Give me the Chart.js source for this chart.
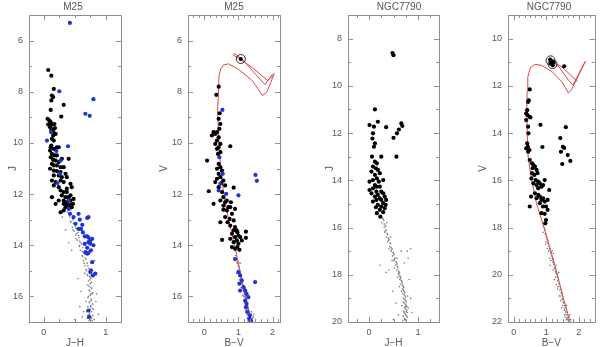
<!DOCTYPE html>
<html>
<head>
<meta charset="utf-8">
<script src="https://cdn.jsdelivr.net/npm/chart.js@4.4.1/dist/chart.umd.min.js"></script>
<style>
  html, body { margin: 0; padding: 0; background: #fff; }
  #wrap { position: relative; width: 600px; height: 347px; }
  canvas { position: absolute; top: 0; }
</style>
</head>
<body>
<div id="wrap">
  <canvas id="p1" width="150" height="347" style="left:0px"></canvas>
  <canvas id="p2" width="150" height="347" style="left:150px"></canvas>
  <canvas id="p3" width="150" height="347" style="left:300px"></canvas>
  <canvas id="p4" width="150" height="347" style="left:450px"></canvas>
</div>
<script>
// ---- data: [colour, magnitude] pairs ----
const m25JH_black = [[.07,7.15],[.12,7.37],[.16,7.89],[.13,8.15],[.15,8.21],[.12,8.34],[.32,8.51],[.11,8.71],[.28,8.97],
  [.06,9.06],[.09,9.13],[.11,9.19],[.07,9.28],[.13,9.28],[.10,9.39],[.16,9.45],[.12,9.52],[.15,9.58],[.17,9.26],[.18,9.42],
  [.19,9.65],[.15,9.71],[.13,9.84],[.16,9.91],[.12,10.1],[.11,10.17],[.10,10.3],[.16,10.23],[.19,10.23],[.21,10.17],[.24,10.17],
  [.40,10.62],[.13,10.43],[.17,10.49],[.21,10.49],[.11,10.56],[.15,10.66],[.19,10.69],[.24,10.75],[.29,10.62],[.13,10.82],
  [.16,10.88],[.21,10.88],[.27,10.95],[.32,10.95],[.10,11.01],[.16,11.08],[.21,11.1],[.27,11.14],[.35,11.21],[.16,11.27],
  [.24,11.27],[.29,11.34],[.37,11.34],[.13,11.47],[.19,11.53],[.27,11.47],[.32,11.53],[.43,11.6],[.16,11.66],[.24,11.73],
  [.37,11.79],[.27,11.86],[.32,11.92],[.37,11.92],[.45,11.73],[.29,12.05],[.35,12.12],[.40,12.12],[.43,12.05],[.13,12.12],
  [.24,12.25],[.32,12.25],[.37,12.32],[.43,12.25],[.48,12.19],[.32,12.38],[.37,12.41],[.43,12.41],[.47,12.38],[.35,12.51],
  [.40,12.54],[.45,12.51],[.32,12.64],[.27,12.71],[.19,12.38]];
const m25JH_blue = [[.42,5.31],[.25,7.98],[.80,8.29],[.67,8.86],[.74,8.94],[.05,9.91],[.12,9.58],[.39,10.13],[.20,10.32],
  [.27,10.69],[.26,11.21],[.22,11.57],[.40,12.25],[.40,12.58],[.42,12.77],[.51,13.16],[.48,12.9],[.56,12.77],[.70,12.93],
  [.72,12.9],[.56,13.36],[.60,13.36],[.63,13.5],[.66,13.65],[.70,13.65],[.72,13.7],[.75,13.81],[.58,13.0],[.62,13.2],
  [.66,13.95],[.70,14.1],[.76,14.2],[.72,14.3],[.78,13.75],[.80,14.0],[.72,13.88],[.75,13.94],[.67,14.27],[.70,14.33],
  [.78,14.66],[.76,14.98],[.75,15.05],[.83,15.11],[.79,15.18],[.72,16.55],[.73,16.8]];
const m25JH_grey = [[.40,12.5],[.43,12.6],[.38,12.7],[.45,12.8],[.42,12.9],[.47,13.0],[.44,13.1],[.50,13.2],[.46,13.3],
  [.52,13.35],[.49,13.45],[.55,13.5],[.51,13.6],[.57,13.7],[.54,13.8],[.60,13.9],[.58,14.0],[.63,14.1],[.59,14.2],[.65,14.3],
  [.62,14.4],[.67,14.5],[.64,14.6],[.70,14.7],[.66,14.8],[.72,14.9],[.69,15.0],[.74,15.1],[.71,15.2],[.76,15.3],[.72,15.4],
  [.75,15.5],[.73,15.6],[.77,15.7],[.74,15.8],[.78,15.9],[.72,16.0],[.76,16.1],[.74,16.2],[.79,16.3],[.71,16.4],[.75,16.5],
  [.77,16.6],[.73,16.7],[.76,16.8],[.74,16.9],[.78,16.95],[.70,16.85],[.80,16.5],[.68,16.2],[.30,12.9],[.35,13.4],[.62,13.2],
  [.70,13.6],[.45,14.2],[.82,14.6],[.55,15.3],[.60,15.8],[.85,15.9],[.58,16.4],[.88,16.7],[.50,16.9],[.62,16.8],[.66,15.1],
  [.40,13.9],[.84,16.2],[.64,16.6],
  [.41,12.55],[.44,12.75],[.46,12.95],[.43,13.05],[.48,13.15],[.51,13.28],[.47,13.4],[.53,13.55],[.56,13.62],[.52,13.75],
  [.58,13.85],[.61,13.95],[.57,14.05],[.62,14.25],[.66,14.35],[.63,14.45],[.68,14.55],[.65,14.7],[.71,14.8],[.68,14.95],
  [.73,15.05],[.70,15.15],[.75,15.25],[.74,15.35],[.77,15.45],[.71,15.55],[.76,15.65],[.73,15.75],[.79,15.85],[.75,15.95],
  [.71,16.05],[.77,16.15],[.73,16.25],[.76,16.35],[.78,16.45],[.72,16.55],[.74,16.65],[.79,16.75],[.71,16.75],[.77,16.85],
  [.73,16.95],[.75,16.4],[.76,15.9],[.69,16.6],[.81,16.9],[.74,15.2]];

const m25BV_black = [[.42,7.80],[.35,8.12],[.45,8.84],[.42,9.06],[.47,9.26],[.44,9.45],[.37,9.58],[.27,9.58],[.32,9.65],
  [.22,9.71],[.42,9.78],[.37,9.91],[.47,10.04],[.42,10.17],[.37,10.23],[.47,10.36],[.40,10.43],[.32,10.04],[.76,10.13],
  [.08,10.69],[.42,10.82],[.47,10.95],[.37,11.01],[.52,11.08],[.42,11.21],[.47,11.34],[.37,11.4],[.56,11.47],[.32,11.53],
  [.50,11.57],[.61,11.66],[.42,11.73],[.13,11.89],[.86,11.75],[.27,12.38],[.52,11.92],[.56,12.12],[.47,12.25],[.61,12.32],
  [.66,12.25],[.56,12.45],[.71,12.51],[.76,12.51],[.66,12.64],[.81,12.77],[.61,12.9],[.74,12.97],[.86,13.03],[.68,13.1],
  [.47,13.1],[.76,13.23],[.90,13.29],[.86,13.42],[.95,13.42],[.81,13.55],[.97,13.49],[1.0,13.62],[.90,13.68],[1.05,13.68],
  [.76,13.75],[.95,13.81],[1.10,13.81],[1.22,13.47],[1.22,13.71],[.86,13.88],[1.0,13.94],[.97,14.07],[.90,14.14],[1.03,14.18],
  [.81,14.07],[.52,13.79],[.90,12.58],[.56,12.61],[.78,12.32],[1.07,6.72]];
const m25BV_blue = [[.53,8.71],[.44,10.56],[.54,11.21],[.47,11.6],[.42,11.86],[1.0,12.05],[1.50,11.25],[1.54,11.48],[.64,11.99],
  [.90,14.54],[1.0,15.05],[1.05,15.18],[1.10,15.38],[1.03,15.5],[1.15,15.64],[1.20,15.77],[1.05,15.77],[1.24,15.9],[1.29,16.03],
  [1.20,16.16],[1.24,16.29],[1.22,16.42],[1.26,16.61],[1.34,16.74],[1.32,16.87],[1.36,16.94],[1.49,15.44]];
const m25BV_grey = [[.92,14.4],[.95,14.55],[.97,14.7],[1.0,14.85],[.98,15.0],[1.04,15.1],[1.06,15.25],[1.03,15.35],[1.09,15.45],
  [1.12,15.55],[1.08,15.65],[1.14,15.75],[1.17,15.85],[1.13,15.95],[1.2,16.05],[1.22,16.15],[1.18,16.25],[1.25,16.3],[1.27,16.4],
  [1.23,16.5],[1.3,16.55],[1.32,16.65],[1.28,16.75],[1.35,16.8],[1.37,16.9],[1.33,16.95],[1.4,16.98],[1.42,16.85],[1.1,15.3],
  [1.15,16.0],[1.0,15.5],[1.25,16.7],[1.38,16.6],[1.45,16.7],[1.5,16.9],[1.2,15.7],[1.05,14.7],[0.95,15.1],[1.28,16.95],[1.36,17.0],
  [.93,14.5],[.96,14.65],[.99,14.78],[1.01,14.95],[1.03,15.05],[1.05,15.18],[1.07,15.32],[1.1,15.4],[1.11,15.5],[1.13,15.62],
  [1.15,15.7],[1.16,15.8],[1.18,15.92],[1.19,16.0],[1.21,16.1],[1.23,16.2],[1.24,16.35],[1.26,16.45],[1.28,16.5],[1.29,16.62],
  [1.31,16.7],[1.33,16.78],[1.34,16.88],[1.36,16.93],[1.39,16.9],[1.31,16.98],[1.26,16.85],[1.21,16.55],[1.17,16.2],[1.42,16.95],
  [1.44,16.8]];
const m25BV_ringed = [[1.07,6.72]];
const m25BV_iso = [[1.42,17.1],[1.3,16.5],[1.17,15.8],[1.05,15.0],[.92,14.2],[.78,13.4],[.65,12.6],[.55,11.8],[.48,11.0],
  [.44,10.2],[.41,9.5],[.39,8.73],[.42,7.82],[.43,7.37],[.48,7.11],[.56,6.95],[.71,6.91],[1.0,7.12],[1.39,7.54],[1.58,7.89],
  [1.70,8.15],[1.83,8.02],[2.05,7.30],[1.99,7.33],[1.78,7.72],[1.54,7.37],[1.15,6.78],[.88,6.5],[.85,6.57],[1.0,6.68],
  [1.39,7.04],[1.86,7.56],[2.02,7.37]];

const n7790JH_black = [[.48,8.61],[.50,8.70],[.12,11.0],[.01,11.66],[.18,11.52],[.10,11.73],[.35,11.75],[.66,11.59],[.68,11.70],
  [.61,11.85],[.50,12.2],[.57,12.01],[.56,13.0],[.08,12.01],[.07,12.23],[.12,12.44],[.10,12.58],[.06,13.0],[.25,13.0],[.12,13.21],
  [.16,13.28],[.08,13.42],[.14,13.49],[.18,13.56],[.05,13.63],[.22,13.7],[.12,13.77],[.16,13.92],[.01,14.06],[.08,13.99],
  [.29,13.99],[.20,14.06],[.12,14.2],[.15,14.27],[.08,14.34],[.22,14.27],[.01,14.41],[.15,14.48],[.25,14.48],[.05,14.55],
  [.18,14.62],[.29,14.55],[.12,14.69],[.22,14.76],[.32,14.69],[.15,14.83],[.25,14.83],[.35,14.83],[.08,14.9],[.29,14.97],
  [.18,15.04],[.34,15.04],[.25,15.11],[.14,15.14],[.22,15.25],[.32,15.18],[.16,15.39],[.29,15.35],[.23,15.54]];
const n7790JH_grey = [[.28,15.6],[.30,15.7],[.26,15.8],[.33,15.9],[.31,16.0],[.35,16.1],[.32,16.2],[.38,16.3],[.36,16.4],
  [.41,16.5],[.38,16.6],[.44,16.7],[.42,16.8],[.47,16.9],[.45,17.0],[.50,17.1],[.48,17.2],[.53,17.3],[.51,17.4],[.56,17.5],
  [.54,17.6],[.59,17.7],[.57,17.8],[.62,17.9],[.60,18.0],[.65,18.1],[.63,18.2],[.67,18.3],[.65,18.4],[.70,18.5],[.68,18.6],
  [.72,18.7],[.69,18.8],[.74,18.9],[.71,19.0],[.75,19.1],[.72,19.2],[.76,19.3],[.73,19.4],[.77,19.5],[.72,19.6],[.75,19.7],
  [.78,19.8],[.73,19.9],[.76,19.95],[.70,19.75],[.80,19.4],[.67,19.3],[.79,18.9],[.62,18.5],[.57,17.3],[.44,16.4],[.36,15.8],
  [.78,17.0],[.85,16.9],[.80,17.3],[.72,17.5],[.22,17.6],[.35,17.9],[.48,18.7],[.55,19.2],[.85,19.0],[.60,19.7],[.88,19.6],
  [.50,19.9],[.66,17.0],[.40,17.8],[.82,18.2],
  [.29,15.65],[.31,15.85],[.34,15.95],[.33,16.15],[.37,16.25],[.39,16.45],[.40,16.55],[.43,16.65],[.45,16.85],[.46,16.95],
  [.49,17.05],[.51,17.15],[.52,17.35],[.55,17.45],[.57,17.55],[.58,17.65],[.60,17.85],[.61,17.95],[.63,18.05],[.64,18.15],
  [.66,18.25],[.68,18.35],[.69,18.45],[.71,18.55],[.70,18.65],[.73,18.75],[.72,18.85],[.75,18.95],[.73,19.05],[.76,19.15],
  [.74,19.25],[.77,19.35],[.75,19.45],[.71,19.55],[.76,19.55],[.74,19.65],[.77,19.75],[.72,19.85],[.75,19.9],[.78,19.6],
  [.69,19.95],[.74,19.35],[.70,19.15],[.66,18.7],[.59,18.1],[.52,17.7],[.47,17.4],[.41,16.9]];

const n7790BV_black = [[1.16,10.96],[1.14,11.06],[1.20,11.13],[1.12,10.89],[1.22,11.0],[1.55,11.17],[.49,12.15],[.46,12.61],
  [.44,12.68],[.41,13.03],[.38,13.17],[.42,13.24],[.49,13.31],[.51,13.34],[.38,13.45],[.44,13.73],[.82,13.65],[.45,14.01],
  [.41,14.44],[.43,14.58],[.48,14.72],[.38,14.65],[.44,14.79],[.88,14.59],[1.60,13.75],[1.43,14.21],[1.51,14.58],[1.55,14.63],
  [1.45,14.79],[1.49,15.31],[1.66,14.93],[1.74,15.18],[.49,15.14],[.56,15.28],[.60,15.35],[.65,15.42],[.58,15.49],[.70,15.56],
  [.56,15.7],[.63,15.77],[.73,15.7],[.54,15.92],[.67,15.99],[.75,16.06],[.60,16.13],[.70,16.2],[.80,16.13],[.85,16.27],
  [.75,16.34],[.90,16.2],[.95,15.99],[1.09,16.41],[.53,16.69],[.49,17.11],[.65,16.55],[.75,16.62],[.80,16.69],[.70,16.76],
  [.85,16.83],[.90,16.76],[.80,16.97],[.95,16.9],[.90,17.11],[.99,17.11],[1.04,16.83],[1.04,17.25],[.85,17.39],[.95,17.42],
  [.99,17.68],[.97,17.82]];
const n7790BV_grey = [[.88,17.8],[.93,18.0],[.90,18.2],[.98,18.3],[1.02,18.5],[.99,18.6],[1.06,18.7],[1.10,18.9],[1.07,19.0],
  [1.15,19.1],[1.18,19.3],[1.14,19.4],[1.22,19.5],[1.25,19.7],[1.21,19.8],[1.30,19.9],[1.33,20.0],[1.29,20.1],[1.37,20.2],
  [1.40,20.4],[1.36,20.5],[1.44,20.6],[1.47,20.8],[1.43,20.9],[1.51,21.0],[1.54,21.2],[1.50,21.3],[1.58,21.4],[1.61,21.6],
  [1.57,21.7],[1.65,21.8],[1.68,21.95],[1.62,21.9],[1.72,21.7],[1.25,20.2],[1.12,19.6],[1.40,20.9],[1.55,21.5],[1.03,18.9],
  [1.30,19.6],[1.18,19.0],[1.45,21.1],[1.62,21.3],[1.75,21.9],[1.35,20.6],
  [.91,17.9],[.95,18.1],[.97,18.25],[1.0,18.4],[1.04,18.55],[1.05,18.65],[1.08,18.8],[1.12,18.95],[1.13,19.05],[1.16,19.2],
  [1.2,19.35],[1.2,19.45],[1.23,19.55],[1.27,19.75],[1.28,19.85],[1.31,19.95],[1.35,20.1],[1.35,20.25],[1.39,20.35],[1.42,20.5],
  [1.42,20.65],[1.46,20.75],[1.49,20.9],[1.49,21.05],[1.52,21.15],[1.56,21.3],[1.56,21.45],[1.6,21.55],[1.63,21.7],[1.63,21.85],
  [1.67,21.9],[1.7,21.8],[1.58,21.8],[1.47,21.4],[1.31,20.4],[1.1,19.3],[.98,18.7],[1.22,19.1],[1.38,19.9]];
const n7790BV_ringed = [[1.13,10.92],[1.19,11.08]];
const n7790BV_iso = [[1.73,22.0],[1.53,21.0],[1.34,20.0],[1.14,19.0],[.93,18.0],[.70,17.0],[.55,16.0],[.44,15.0],[.41,14.0],
  [.40,13.0],[.41,12.2],[.43,11.62],[.51,11.23],[.65,11.09],[.85,11.13],[1.19,11.41],[1.48,11.83],[1.68,12.30],[1.77,12.18],
  [2.21,10.95],[2.16,11.06],[1.82,11.97],[1.68,11.76],[1.39,11.2],[1.09,10.85],[1.14,10.95],[1.48,11.2],[1.97,11.83]];

// ---- axis ticks ----
const m25Mag_ticks = [6, 8, 10, 12, 14, 16];
const n7790J_ticks = [8, 10, 12, 14, 16, 18, 20];
const n7790V_ticks = [10, 12, 14, 16, 18, 20, 22];
const JH_ticks = [0, 1];
const BV_ticks = [0, 1, 2];

const GREY_TXT = '#555';
const FRAME = '#8f8f8f';
const FONT = 'Liberation Sans, Arial, sans-serif';

// frame with inward ticks on all four sides, plus panel title
const framePlugin = {
  id: 'frame',
  afterDraw(chart, args, o) {
    const {ctx, chartArea: a, scales: {x, y}} = chart;
    ctx.save();
    ctx.strokeStyle = FRAME;
    ctx.lineWidth = 1;
    ctx.strokeRect(Math.round(a.left) + 0.5, Math.round(a.top) + 0.5,
                   Math.round(a.right - a.left), Math.round(a.bottom - a.top));
    ctx.beginPath();
    const xt = (v, len) => {
      const px = Math.round(x.getPixelForValue(v)) + 0.5;
      ctx.moveTo(px, a.bottom); ctx.lineTo(px, a.bottom - len);
      ctx.moveTo(px, a.top); ctx.lineTo(px, a.top + len);
    };
    const yt = (v, len) => {
      const py = Math.round(y.getPixelForValue(v)) + 0.5;
      ctx.moveTo(a.left, py); ctx.lineTo(a.left + len, py);
      ctx.moveTo(a.right, py); ctx.lineTo(a.right - len, py);
    };
    for (let k = Math.ceil(x.min / o.xMinor); k * o.xMinor <= x.max + 1e-9; k++) xt(k * o.xMinor, 3);
    for (let k = Math.ceil(y.min); k <= y.max; k++) yt(k, 3);
    o.xTicks.forEach(v => xt(v, 5));
    o.yTicks.forEach(v => yt(v, 5));
    ctx.stroke();
    ctx.fillStyle = GREY_TXT;
    ctx.font = '10px ' + FONT;
    ctx.textAlign = 'center';
    ctx.textBaseline = 'middle';
    ctx.fillText(o.title, o.titleX, 7.5);
    ctx.restore();
  }
};

function panel(id, p) {
  const ds = [];
  if (p.ringed) ds.push({data: p.ringed, pointRadius: 4.5, backgroundColor: 'rgba(0,0,0,0)',
                         borderColor: '#000', borderWidth: 0.8});
  if (p.blue) ds.push({data: p.blue, pointRadius: 2.1, backgroundColor: '#1f33d8', borderWidth: 0});
  ds.push({data: p.black, pointRadius: 2.1, backgroundColor: '#000', borderWidth: 0});
  if (p.iso) ds.push({data: p.iso, showLine: true, pointRadius: 0, borderColor: '#e0454a',
                      borderWidth: 1, tension: 0, fill: false});
  ds.push({data: p.grey, pointRadius: 0.8, backgroundColor: '#777', borderWidth: 0});

  new Chart(document.getElementById(id), {
    type: 'scatter',
    data: {datasets: ds},
    options: {
      responsive: false,
      animation: false,
      events: [],
      layout: {padding: {left: p.padL, right: p.padR, top: 15, bottom: 0}},
      plugins: {
        legend: {display: false},
        tooltip: {enabled: false},
        frame: {title: p.title, titleX: p.titleX, xTicks: p.xTicks, yTicks: p.yTicks, xMinor: p.xMinor}
      },
      scales: {
        x: {
          type: 'linear', min: p.xMin, max: p.xMax,
          grid: {display: false, drawTicks: false}, border: {display: false},
          ticks: {font: {size: 9, family: FONT}, color: GREY_TXT, padding: 5, maxRotation: 0},
          afterBuildTicks: s => { s.ticks = p.xTicks.map(v => ({value: v})); },
          afterFit: s => { s.height = 25; },
          title: {display: true, text: p.xTitle, color: GREY_TXT,
                  font: {size: 10, family: FONT, lineHeight: 0.8}, padding: 0}
        },
        y: {
          type: 'linear', min: p.yMin, max: p.yMax, reverse: true,
          grid: {display: false, drawTicks: false}, border: {display: false},
          ticks: {font: {size: 9, family: FONT}, color: GREY_TXT, padding: 6},
          afterBuildTicks: s => { s.ticks = p.yTicks.map(v => ({value: v})); },
          afterFit: s => { s.width = p.left - p.padL; },
          title: {display: true, text: p.yTitle, color: GREY_TXT,
                  font: {size: 10, family: FONT}, padding: 0}
        }
      }
    },
    plugins: [framePlugin]
  });
}

panel('p1', {title: 'M25', titleX: 73, xTitle: 'J\u2212H', yTitle: 'J',
  black: m25JH_black, blue: m25JH_blue, grey: m25JH_grey,
  xMin: -0.24, xMax: 1.245, yMin: 5, yMax: 17, xTicks: JH_ticks, yTicks: m25Mag_ticks, xMinor: 0.25,
  padL: 7, left: 29, padR: 29});
panel('p2', {title: 'M25', titleX: 84, xTitle: 'B\u2212V', yTitle: 'V',
  black: m25BV_black, blue: m25BV_blue, grey: m25BV_grey, iso: m25BV_iso, ringed: m25BV_ringed,
  xMin: -0.48, xMax: 2.22, yMin: 5, yMax: 17, xTicks: BV_ticks, yTicks: m25Mag_ticks, xMinor: 1 / 6,
  padL: 8, left: 38, padR: 20});
panel('p3', {title: 'NGC7790', titleX: 99, xTitle: 'J\u2212H', yTitle: 'J',
  black: n7790JH_black, grey: n7790JH_grey,
  xMin: -0.43, xMax: 1.43, yMin: 7, yMax: 20, xTicks: JH_ticks, yTicks: n7790J_ticks, xMinor: 0.25,
  padL: 24, left: 48, padR: 11});
panel('p4', {title: 'NGC7790', titleX: 99, xTitle: 'B\u2212V', yTitle: 'V',
  black: n7790BV_black, grey: n7790BV_grey, iso: n7790BV_iso, ringed: n7790BV_ringed,
  xMin: -0.18, xMax: 2.49, yMin: 9, yMax: 22, xTicks: BV_ticks, yTicks: n7790V_ticks, xMinor: 1 / 6,
  padL: 27, left: 58, padR: 1});
</script>
</body>
</html>
